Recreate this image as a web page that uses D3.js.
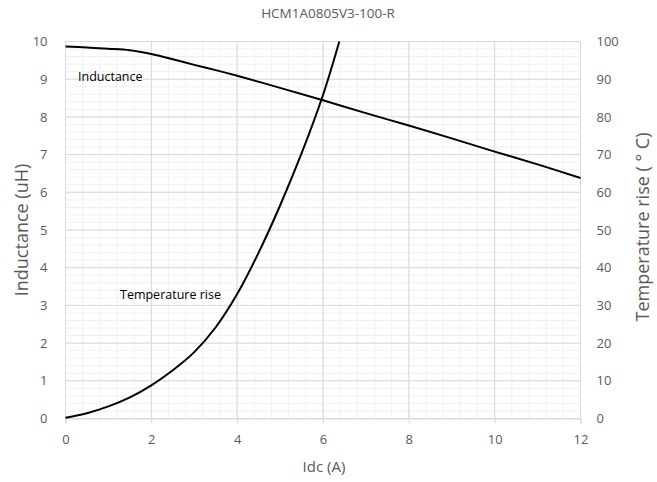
<!DOCTYPE html>
<html>
<head>
<meta charset="utf-8">
<script src="https://cdn.jsdelivr.net/npm/d3@7"></script>
<style>
body{margin:0;background:#fff;}
text{font-family:"Open Sans","Noto Sans",sans-serif;}
</style>
</head>
<body>
<svg id="chart" width="657" height="482"></svg>
<script>
const title = "HCM1A0805V3-100-R";
const xLabel = "Idc (A)";
const yLeftLabel = "Inductance (uH)";
const yRightLabel = "Temperature rise ( ° C)";
const xTicks = [0, 2, 4, 6, 8, 10, 12];
const yLeftTicks = [0,1,2,3,4,5,6,7,8,9,10];
const yRightTicks = [0,10,20,30,40,50,60,70,80,90,100];

const inductanceX = [0, 0.5, 1, 1.5, 2, 2.5, 3, 3.5, 4, 5, 6, 7, 8, 9, 10, 11, 12];
const inductanceY = [9.87, 9.84, 9.81, 9.77, 9.67, 9.53, 9.38, 9.24, 9.09, 8.77, 8.44, 8.1, 7.77, 7.43, 7.08, 6.74, 6.38];

const tempX = [0, 0.5, 1, 1.5, 2, 2.5, 3, 3.5, 4, 4.5, 5, 5.5, 6, 6.38];
const tempY = [0.2, 1.4, 3.2, 5.6, 8.8, 12.8, 17.6, 24.2, 33, 44, 56.5, 70.3, 85.8, 100];

const svg = d3.select("#chart");
const pLeft = 65.5, pRight = 580.5, pTop = 41.5, pBottom = 418.5;

const x = d3.scaleLinear().domain([0, 12]).range([pLeft, pRight]);
const yL = d3.scaleLinear().domain([0, 10]).range([pBottom, pTop]);
const yR = d3.scaleLinear().domain([0, 100]).range([pBottom, pTop]);

// minor grid
const g = svg.append("g");
d3.range(0, 12.0001, 0.4).forEach(v => {
  g.append("line").attr("x1", x(v)).attr("x2", x(v)).attr("y1", pTop).attr("y2", pBottom)
    .attr("stroke", "#f0f0f0").attr("stroke-width", 1);
});
d3.range(0, 10.0001, 0.2).forEach(v => {
  g.append("line").attr("x1", pLeft).attr("x2", pRight).attr("y1", yL(v)).attr("y2", yL(v))
    .attr("stroke", "#f0f0f0").attr("stroke-width", 1);
});
// major grid
xTicks.forEach(v => {
  g.append("line").attr("x1", x(v)).attr("x2", x(v)).attr("y1", pTop).attr("y2", pBottom)
    .attr("stroke", "#d9d9d9").attr("stroke-width", 1);
});
yLeftTicks.forEach(v => {
  g.append("line").attr("x1", pLeft).attr("x2", pRight).attr("y1", yL(v)).attr("y2", yL(v))
    .attr("stroke", "#d9d9d9").attr("stroke-width", 1);
});

// x axis
const xAxis = svg.append("g").attr("transform", `translate(0,${pBottom})`)
  .call(d3.axisBottom(x).tickValues(xTicks).tickSize(5).tickPadding(11).tickFormat(d3.format("d")));
xAxis.select(".domain").attr("stroke", "#d9d9d9");
xAxis.selectAll(".tick line").attr("stroke", "#d9d9d9");
xAxis.selectAll("text").attr("fill", "#595959").style("font-size", "13px");

const yAxisL = svg.append("g").attr("transform", `translate(${pLeft},0)`)
  .call(d3.axisLeft(yL).tickValues(yLeftTicks).tickSize(0).tickPadding(18).tickFormat(d3.format("d")));
yAxisL.select(".domain").remove();
yAxisL.selectAll("text").attr("fill", "#595959").style("font-size", "13px");

const yAxisR = svg.append("g").attr("transform", `translate(${pRight},0)`)
  .call(d3.axisRight(yR).tickValues(yRightTicks).tickSize(0).tickPadding(16).tickFormat(d3.format("d")));
yAxisR.select(".domain").remove();
yAxisR.selectAll("text").attr("fill", "#595959").style("font-size", "13px");

// lines
const indData = inductanceX.map((v, i) => [v, inductanceY[i]]);
const tempData = tempX.map((v, i) => [v, tempY[i]]);

svg.append("path").datum(indData)
  .attr("fill", "none").attr("stroke", "#000").attr("stroke-width", 2)
  .attr("d", d3.line().x(d => x(d[0])).y(d => yL(d[1])).curve(d3.curveCatmullRom.alpha(0.5)));
svg.append("path").datum(tempData)
  .attr("fill", "none").attr("stroke", "#000").attr("stroke-width", 2)
  .attr("d", d3.line().x(d => x(d[0])).y(d => yR(d[1])).curve(d3.curveCatmullRom.alpha(0.5)));

// labels
svg.append("text").attr("x", 328).attr("y", 18).attr("text-anchor", "middle")
  .attr("fill", "#595959").style("font-size", "13.5px").text(title);
svg.append("text").attr("x", 324).attr("y", 472).attr("text-anchor", "middle")
  .attr("fill", "#595959").style("font-size", "15px").text(xLabel);
svg.append("text").attr("transform", `translate(28,230) rotate(-90)`).attr("text-anchor", "middle")
  .attr("fill", "#595959").style("font-size", "18px").text(yLeftLabel);
svg.append("text").attr("transform", `translate(649,227) rotate(-90)`).attr("text-anchor", "middle")
  .attr("fill", "#595959").style("font-size", "18px").text(yRightLabel);

svg.append("text").attr("x", 78).attr("y", 81).attr("fill", "#000")
  .style("font-size", "12.5px").text("Inductance");
svg.append("text").attr("x", 120).attr("y", 299).attr("fill", "#000")
  .style("font-size", "12.5px").text("Temperature rise");
</script>
</body>
</html>
